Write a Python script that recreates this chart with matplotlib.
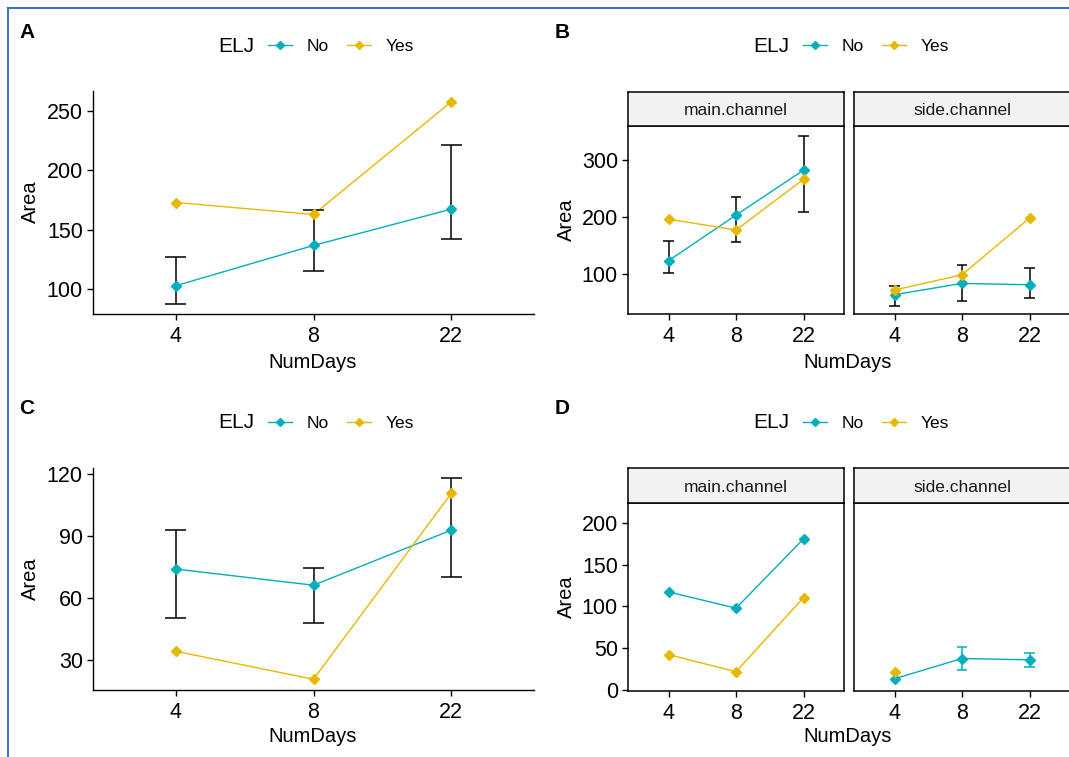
import matplotlib
matplotlib.use("Agg")
import matplotlib.pyplot as plt
from matplotlib.lines import Line2D
import numpy as np

plt.rcParams['font.family'] = ['Liberation Sans', 'DejaVu Sans']

W, H = 1069, 757
TEAL = '#00AFBB'
GOLD = '#E7B800'

days = ['4', '8', '22']

# panel A
a_no = [102.8, 136.8, 167.4]
a_no_lo = [87.6, 115.1, 142.1]
a_no_hi = [127.2, 166.9, 221.1]
a_yes = [173.0, 162.9, 257.9]

# panel B (facets)
b_main_no = [124.0, 203.5, 282.0]
b_main_no_lo = [102.3, 156.0, 209.0]
b_main_no_hi = [158.4, 234.7, 341.6]
b_main_yes = [196.5, 177.5, 266.0]
b_side_no = [64.7, 84.4, 82.0]
b_side_no_lo = [44.5, 53.8, 58.4]
b_side_no_hi = [79.0, 116.8, 112.0]
b_side_yes = [72.8, 99.4, 198.3]

# panel C
c_no = [73.9, 66.1, 92.7]
c_no_lo = [50.3, 47.8, 69.9]
c_no_hi = [92.6, 74.3, 117.9]
c_yes = [34.2, 20.7, 110.5]

# panel D (facets)
d_main_no = [117.3, 97.8, 180.9]
d_main_yes = [42.1, 21.5, 110.5]
d_side_no = [13.1, 37.4, 35.8]
d_side_no_lo = [np.nan, 23.5, 27.0]
d_side_no_hi = [np.nan, 51.3, 44.5]
d_side_yes = [21.5, np.nan, np.nan]

facets = ['main.channel', 'side.channel']

fig = plt.figure(figsize=(W / 100, H / 100), dpi=100)


def add_ax(x0, y0, x1, y1):
    return fig.add_axes([x0 / W, 1 - y1 / H, (x1 - x0) / W, (y1 - y0) / H])


def style(ax, ylim, yticks, boxed=False, show_y=True):
    x = np.arange(len(days))
    ax.set_xlim(-0.6, 2.6)
    ax.set_ylim(*ylim)
    ax.set_xticks(x)
    ax.set_xticklabels(days)
    ax.set_yticks(yticks)
    ax.tick_params(labelsize=15.5, length=4.3, width=1.0, pad=3, colors='black')
    ax.tick_params(axis='x', pad=4)
    if not show_y:
        ax.tick_params(axis='y', left=False, labelleft=False)
    for s in ['top', 'right']:
        ax.spines[s].set_visible(boxed)
    for s in ax.spines.values():
        s.set_linewidth(1.1 if boxed else 1.0)
        s.set_color('black')
    ax.set_facecolor('white')


def draw(ax, no, yes, lo=None, hi=None, ecol='black'):
    x = np.arange(len(days))
    cap = 0.077
    ax.plot(x, no, color=TEAL, lw=1.0, zorder=2)
    ax.plot(x, yes, color=GOLD, lw=1.0, zorder=2)
    if lo is not None:
        lo = np.array(lo, dtype=float)
        hi = np.array(hi, dtype=float)
        ok = ~np.isnan(lo)
        ax.vlines(x[ok], lo[ok], hi[ok], color=ecol, lw=1.1, zorder=3)
        ax.hlines(lo[ok], x[ok] - cap, x[ok] + cap, color=ecol, lw=1.1, zorder=3)
        ax.hlines(hi[ok], x[ok] - cap, x[ok] + cap, color=ecol, lw=1.1, zorder=3)
    ax.plot(x, no, ls='none', marker='D', ms=4.8, color=TEAL, zorder=4)
    ax.plot(x, yes, ls='none', marker='D', ms=4.8, color=GOLD, zorder=4)


def strip(x0, y0, x1, y1, label):
    s = add_ax(x0, y0, x1, y1)
    s.set_facecolor('#F2F2F2')
    s.set_xticks([])
    s.set_yticks([])
    for sp in s.spines.values():
        sp.set_linewidth(1.1)
        sp.set_color('black')
    s.text(0.5, 0.45, label, ha='center', va='center', fontsize=12.5,
           color='#1a1a1a', transform=s.transAxes)


def legend(x_title, yc):
    fig.text(x_title / W, 1 - yc / H, 'ELJ', fontsize=15, va='center', ha='left')
    handles = [Line2D([], [], color=TEAL, lw=1.0, marker='D', ms=4.5),
               Line2D([], [], color=GOLD, lw=1.0, marker='D', ms=4.5)]
    fig.legend(handles, ['No', 'Yes'], ncol=2, frameon=False, fontsize=12.5,
               loc='center left', bbox_to_anchor=((x_title + 50) / W, 1 - yc / H),
               borderpad=0, borderaxespad=0, handlelength=1.4,
               handletextpad=0.85, columnspacing=1.0)


def labels(x_area, y_area, x_days, y_days):
    fig.text(x_area / W, 1 - y_area / H, 'Area', rotation=90, fontsize=14.5,
             ha='center', va='center')
    fig.text(x_days / W, 1 - y_days / H, 'NumDays', fontsize=14.5,
             ha='center', va='center')


# A
axA = add_ax(93, 91, 534, 314)
draw(axA, a_no, a_yes, a_no_lo, a_no_hi)
style(axA, (79, 267), [100, 150, 200, 250])
labels(30, 202, 313, 362)
legend(218, 46)

# C
axC = add_ax(93, 468, 534, 690)
draw(axC, c_no, c_yes, c_no_lo, c_no_hi)
style(axC, (15.5, 122.7), [30, 60, 90, 120])
labels(30, 579, 313, 737)
legend(218, 423)

# B
axB1 = add_ax(628, 126, 844, 314)
draw(axB1, b_main_no, b_main_yes, b_main_no_lo, b_main_no_hi)
style(axB1, (31, 359), [100, 200, 300], boxed=True)
axB2 = add_ax(854, 126, 1070, 314)
draw(axB2, b_side_no, b_side_yes, b_side_no_lo, b_side_no_hi)
style(axB2, (31, 359), [100, 200, 300], boxed=True, show_y=False)
strip(628, 92, 844, 126, facets[0])
strip(854, 92, 1070, 126, facets[1])
labels(566, 220, 848, 362)
legend(753, 46)

# D
axD1 = add_ax(628, 503, 844, 691)
draw(axD1, d_main_no, d_main_yes)
style(axD1, (-1.6, 224), [0, 50, 100, 150, 200], boxed=True)
axD2 = add_ax(854, 503, 1070, 691)
draw(axD2, d_side_no, d_side_yes, d_side_no_lo, d_side_no_hi, ecol=TEAL)
style(axD2, (-1.6, 224), [0, 50, 100, 150, 200], boxed=True, show_y=False)
strip(628, 468, 844, 503, facets[0])
strip(854, 468, 1070, 503, facets[1])
labels(566, 597, 848, 737)
legend(753, 423)

# panel letters
for lab, x, y in [('A', 19, 32), ('B', 555, 32), ('C', 19, 408), ('D', 555, 408)]:
    fig.text(x / W, 1 - y / H, lab, fontsize=15, fontweight='bold',
             va='center', ha='left')

# screenshot frame
fig.add_artist(Line2D([8 / W, 1], [1 - 8 / H, 1 - 8 / H], color='#4472C4', lw=1.5,
                      transform=fig.transFigure))
fig.add_artist(Line2D([8 / W, 8 / W], [0, 1 - 8 / H], color='#4472C4', lw=1.5,
                      transform=fig.transFigure))

fig.savefig('out.png', dpi=100, facecolor='white')
